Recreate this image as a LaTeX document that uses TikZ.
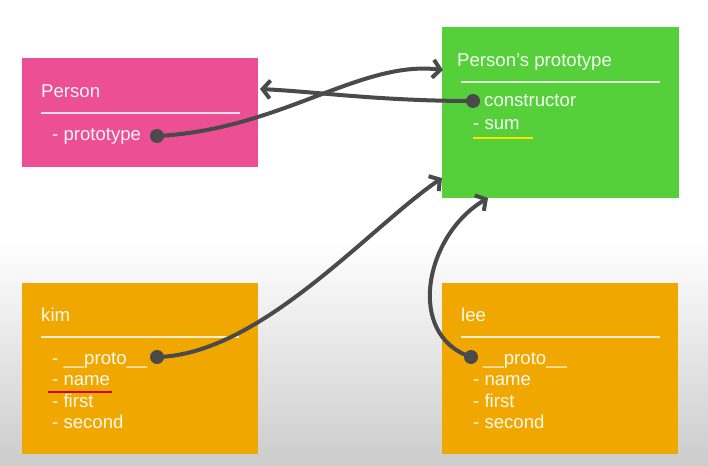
\documentclass[tikz,border=0pt]{standalone}
\usepackage{fontspec}
\setmainfont{Liberation Sans}
\usetikzlibrary{arrows.meta}
\definecolor{pinkbox}{HTML}{EC4F93}
\definecolor{greenbox}{HTML}{55D03A}
\definecolor{orangebox}{HTML}{F0A700}
\definecolor{darkwire}{HTML}{4A4A4A}
\tikzset{
  box/.style={fill=#1, anchor=north west, inner sep=0, minimum width=236pt},
  field/.style={anchor=base west, inner sep=0, text=white, text opacity=0.93},
  rule/.style={white, line width=1.2pt, opacity=0.8},
  dot/.style={circle, fill=darkwire, minimum size=14pt, inner sep=0},
  wire/.style={darkwire, line width=4pt, line cap=round, -{Straight Barb[length=7.5pt,width=18pt]}},
}
\begin{document}
\begin{tikzpicture}[x=1pt, y=-1pt, font=\fontsize{18.6}{21}\selectfont]
	\useasboundingbox (0,0) rectangle (708,465);
	% background
	\fill[white] (0,0) rectangle (708,242);
	\shade[top color=white, bottom color=black!20] (0,240) rectangle (708,465);
	% boxes
	\node[box=pinkbox, minimum height=109pt] (person) at (22,58) {};
	\node[box=greenbox, minimum width=237pt, minimum height=171pt] (proto) at (442,27) {};
	\node[box=orangebox, minimum height=171pt] (kim) at (22,283) {};
	\node[box=orangebox, minimum height=171pt] (lee) at (442,283) {};
	% Person
	\node[field] (person-title) at (41,98) {Person};
	\draw[rule] (41,113) -- (240,113);
	\node[field] (person-proto) at (52,141) {- prototype};
	% Person's prototype
	\node[field] (proto-title) at (457,67) {Person’s prototype};
	\draw[rule] (461,82) -- (660,82);
	\node[field] (proto-ctor) at (484,107) {constructor};
	\node[field] (proto-sum) at (473,130) {- sum};
	\draw[yellow!85!orange, line width=2.5pt] (473,138) -- (533,138);
	% kim
	\node[field] (kim-title) at (41,321) {kim};
	\draw[rule] (41,337) -- (239,337);
	\node[field] (kim-proto) at (52,364) {- \_\_proto\_\_};
	\node[field] (kim-name) at (52,385.5) {- name};
	\node[field] (kim-first) at (52,407) {- first};
	\node[field] (kim-second) at (52,428.5) {- second};
	\draw[red!85!black, line width=2.5pt] (48,392) -- (112,392);
	% lee
	\node[field] (lee-title) at (461,321) {lee};
	\draw[rule] (461,337) -- (660,337);
	\node[field] (lee-proto) at (483,364) {\_\_proto\_\_};
	\node[field] (lee-name) at (473,385.5) {- name};
	\node[field] (lee-first) at (473,407) {- first};
	\node[field] (lee-second) at (473,428.5) {- second};
	% links
	\node[dot] (person-dot) at (157,136) {};
	\node[dot] (ctor-dot) at (473,101) {};
	\node[dot] (kim-dot) at (157,357) {};
	\node[dot] (lee-dot) at (471,357) {};
	\coordinate (proto-in1) at (443,70);
	\coordinate (proto-in2) at (442,178);
	\coordinate (proto-in3) at (488,198);
	\coordinate (person-in) at (260,89);
	\draw[wire] (person-dot.center) .. controls (280,130) and (360,60) .. (proto-in1);
	\draw[wire] (ctor-dot.center) .. controls (380,101) and (320,92) .. (person-in);
	\draw[wire] (kim-dot.center) .. controls (260,355) and (370,227) .. (proto-in2);
	\draw[wire] (lee-dot.center) .. controls (405,335) and (425,235) .. (proto-in3);
\end{tikzpicture}
\end{document}
